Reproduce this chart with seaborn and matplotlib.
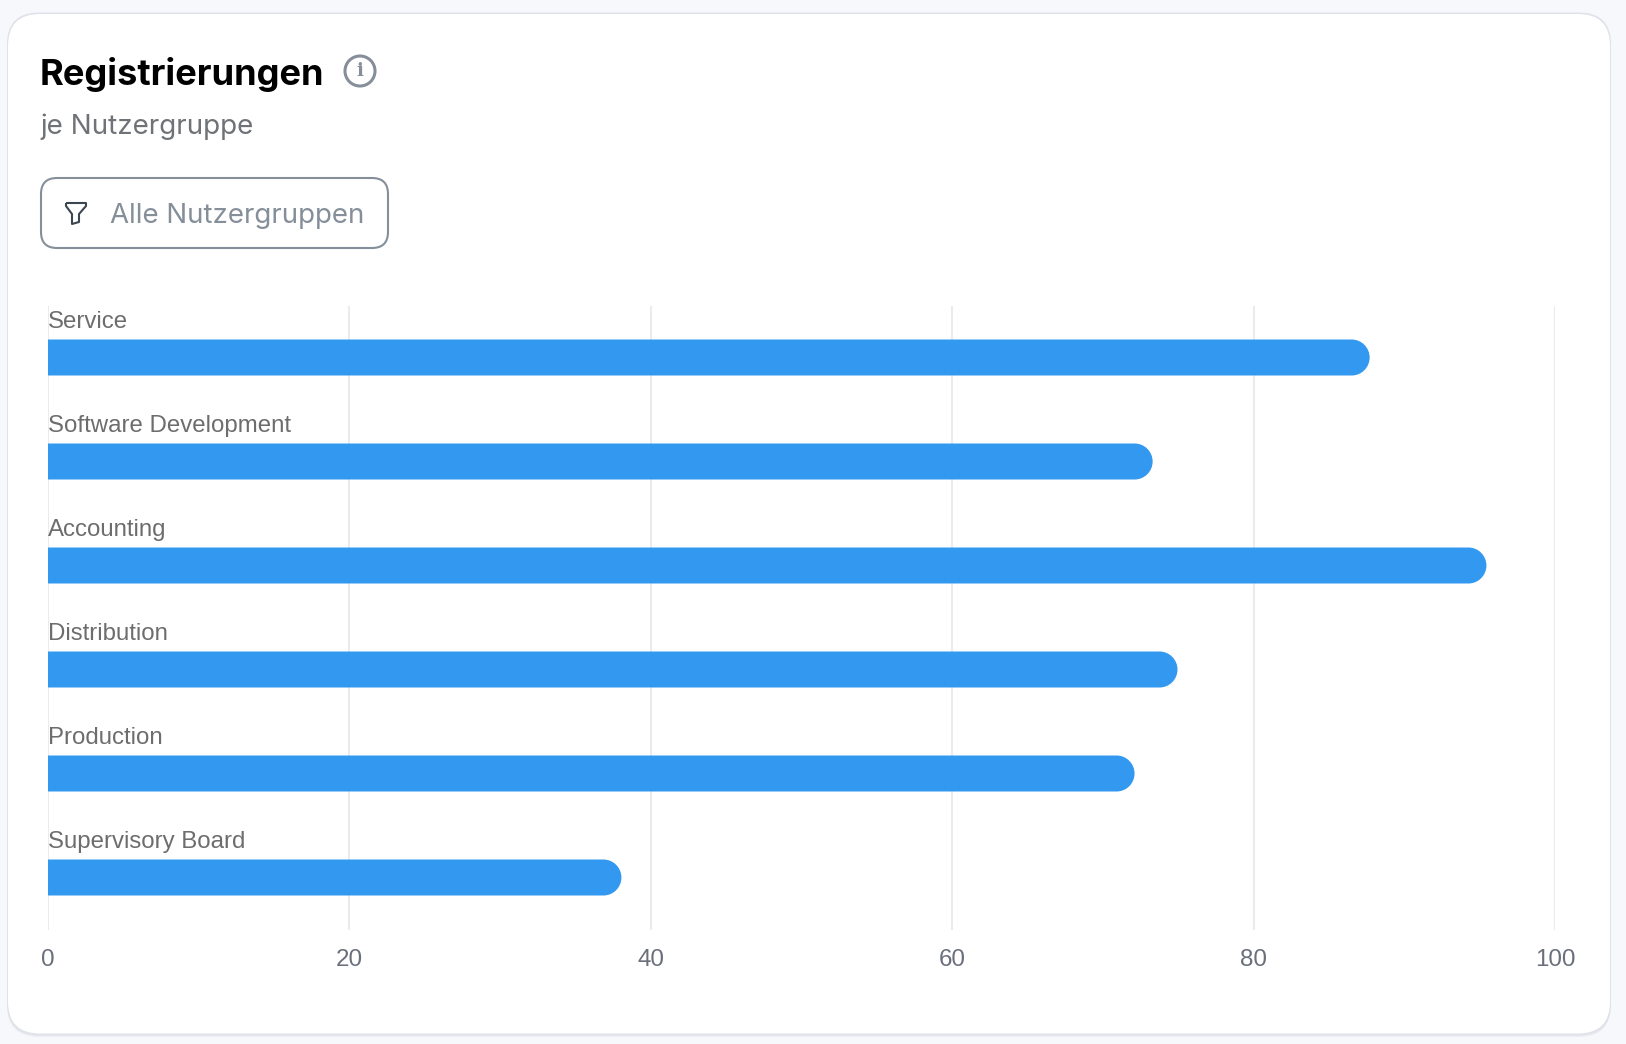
import matplotlib
matplotlib.use("Agg")
import matplotlib.pyplot as plt
import pandas as pd
import seaborn as sns
from matplotlib.patches import Circle, FancyBboxPatch, PathPatch
from matplotlib.path import Path
from matplotlib.transforms import blended_transform_factory

categories = ["Service", "Software Development", "Accounting", "Distribution", "Production", "Supervisory Board"]
values = [87.7, 73.3, 95.45, 74.95, 72.1, 38.05]
x_ticks = [0, 20, 40, 60, 80, 100]

title = "Registrierungen"
subtitle = "je Nutzergruppe"
filter_label = "Alle Nutzergruppen"

W, H = 1626, 1044
BAR_BLUE = "#3399f0"

sns.set_theme(style="white")
plt.rcParams["font.family"] = ["Liberation Sans", "DejaVu Sans"]

fig = plt.figure(figsize=(W / 100, H / 100), dpi=100, facecolor="#f6f8fc")

# page layer, works in screen pixels with y going down
bg = fig.add_axes([0, 0, 1, 1], zorder=0)
bg.set_xlim(0, W)
bg.set_ylim(H, 0)
bg.axis("off")

# soft shadow of the card, then the card
bg.add_patch(FancyBboxPatch((7 + 32, 13 + 32), 1604 - 64, 1024 - 64,
                            boxstyle="round,pad=32,rounding_size=32",
                            fc="#eceef3", ec="none"))
bg.add_patch(FancyBboxPatch((7 + 32, 12.5 + 32), 1604 - 64, 1023 - 64,
                            boxstyle="round,pad=32,rounding_size=32",
                            fc="#dfe2e8", ec="none"))
bg.add_patch(FancyBboxPatch((8 + 32, 14 + 32), 1602 - 64, 1019.5 - 64,
                            boxstyle="round,pad=32,rounding_size=32",
                            fc="white", ec="none"))

bg.text(40, 74, title, family="Inter", weight="bold", fontsize=26.1, color="black", va="center", ha="left")
bg.text(40, 127, subtitle, family="Inter", fontsize=20, color="#6f7276", va="center", ha="left")

# info icon
bg.add_patch(Circle((360, 71), 15, fc="none", ec="#858e99", lw=2.2))
bg.text(360, 71.5, "i", family="DejaVu Serif", weight="bold", fontsize=13, color="#858e99", ha="center", va="center")

# filter dropdown
bg.add_patch(FancyBboxPatch((41 + 16, 178 + 16), 347 - 32, 70 - 32,
                            boxstyle="round,pad=16,rounding_size=16",
                            fc="white", ec="#858f9a", lw=1.5))
funnel = Path([(66, 203), (86, 203), (86, 206), (79, 214), (79, 222), (72, 224), (72, 214), (66, 206), (66, 203)])
bg.add_patch(PathPatch(funnel, fc="none", ec="#3c4650", lw=1.5, joinstyle="round"))
bg.text(110, 216, filter_label, family="Inter", fontsize=19.9, color="#858f9a", va="center", ha="left")

# chart layer
ax = fig.add_axes([48 / W, 1 - 929.5 / H, (1555 - 48) / W, 624 / H], zorder=1)
ax.patch.set_alpha(0)

df = pd.DataFrame({"group": categories, "value": values})
sns.barplot(data=df, x="value", y="group", order=categories, orient="h",
            color=BAR_BLUE, saturation=1, width=36 / 104, ax=ax, zorder=3)

ax.set_xlim(0, 100)
ax.set_ylim(len(categories) - 0.5, -0.5)
ax.set_xticks(x_ticks)
ax.set_yticks([])
ax.set_xlabel("")
ax.set_ylabel("")
ax.grid(axis="x", color="#e9ebee", lw=1.5, zorder=0)
ax.grid(axis="y", visible=False)
for s in ax.spines.values():
    s.set_visible(False)
ax.tick_params(axis="x", length=0, pad=14, labelsize=17.4, labelcolor="#6b6f7c")

# swap the square bar ends for rounded ones, radius is half the bar height
px_per_x = ax.get_position().width * W / 100
px_per_y = ax.get_position().height * H / len(categories)
for bar in list(ax.patches):
    x0, w = bar.get_x(), bar.get_width()
    y0, h = bar.get_y(), bar.get_height()
    ry = h / 2
    rx = ry * px_per_y / px_per_x
    k = 0.5523
    xs = x0 + w - rx
    verts = [(x0, y0), (xs, y0),
             (xs + k * rx, y0), (xs + rx, y0 + ry - k * ry), (xs + rx, y0 + ry),
             (xs + rx, y0 + ry + k * ry), (xs + k * rx, y0 + h), (xs, y0 + h),
             (x0, y0 + h), (x0, y0)]
    codes = [Path.MOVETO, Path.LINETO, Path.CURVE4, Path.CURVE4, Path.CURVE4,
             Path.CURVE4, Path.CURVE4, Path.CURVE4, Path.LINETO, Path.CLOSEPOLY]
    ax.add_patch(PathPatch(Path(verts, codes), fc=BAR_BLUE, ec="none", zorder=3))
    bar.remove()

# group names sit above their bars
trans = blended_transform_factory(ax.transAxes, ax.transData)
for i, name in enumerate(categories):
    ax.text(0, i - 0.343, name, transform=trans, ha="left", va="center",
            fontsize=17.3, color="#6d6d6d", zorder=4)

fig.savefig("out.png", dpi=100, facecolor=fig.get_facecolor())
plt.close(fig)
